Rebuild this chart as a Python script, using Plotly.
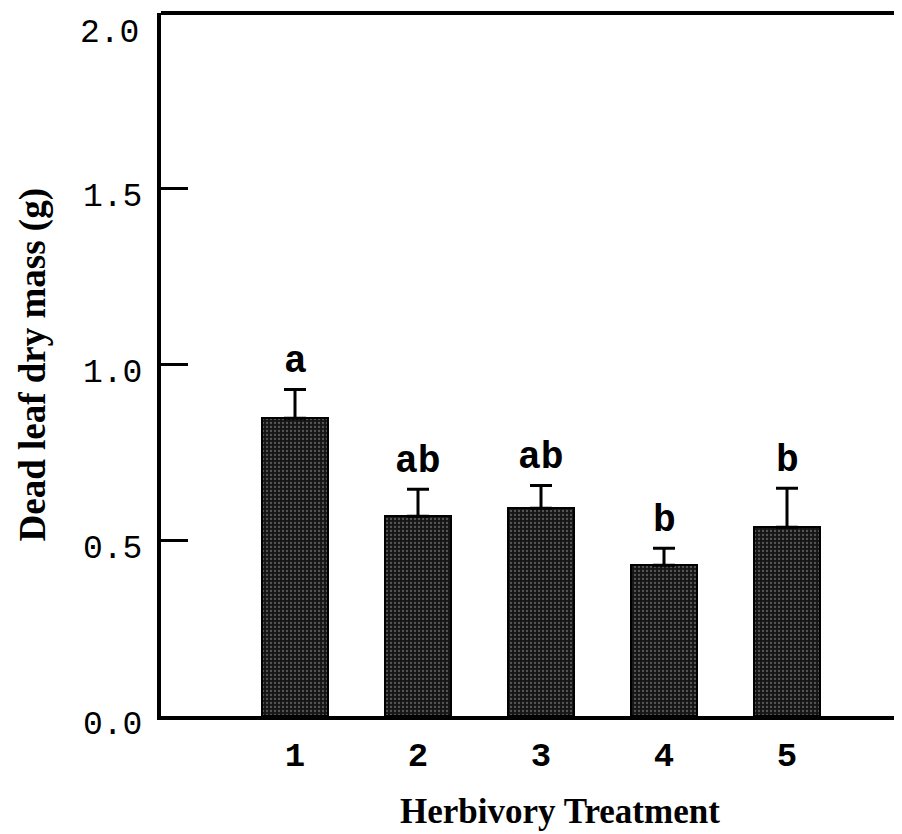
import plotly.graph_objects as go

treatments = [1, 2, 3, 4, 5]
tick_labels = ["1", "2", "3", "4", "5"]
means = [0.847, 0.568, 0.591, 0.429, 0.537]
se_upper = [0.082, 0.077, 0.065, 0.048, 0.111]
letters = ["a", "ab", "ab", "b", "b"]
y_ticks = [0.0, 0.5, 1.0, 1.5, 2.0]
y_tick_text = ["0.0", "0.5", "1.0", "1.5", ""]

# page has an 8px body margin; figure is sized so it fills the 902x834 window
OFF = 8
W, H = 902 - OFF, 834 - OFF
ML, MR, MT = 161 - OFF, 0, 13 - OFF
MB = H - (716 - OFF)

mono = "Courier New, Liberation Mono, monospace"
serif = "Times New Roman, Liberation Serif, serif"

fig = go.Figure()
fig.add_trace(go.Bar(
    x=treatments, y=means, width=0.535,
    marker=dict(
        color="#151515",
        line=dict(color="black", width=2),
        pattern=dict(shape=".", fgcolor="#9a9a9a", bgcolor="#151515", size=4, solidity=0.25),
    ),
    error_y=dict(type="data", symmetric=False, array=se_upper,
                 arrayminus=[0] * len(se_upper), color="black", thickness=3, width=11),
    showlegend=False,
))

for xv, m, e, lab in zip(treatments, means, se_upper, letters):
    fig.add_annotation(x=xv, y=m + e, text=f"<b>{lab}</b>", showarrow=False,
                       yanchor="bottom", yshift=4,
                       font=dict(family=mono, size=38, color="black"))

# top border line
fig.add_shape(type="line", xref="paper", yref="paper", x0=0, x1=1, y0=1, y1=1,
              line=dict(color="black", width=4))

# 2.0 label (drawn slightly below the top tick, as in the original)
fig.add_annotation(xref="paper", yref="y", x=0, y=2.0, text="2.0", showarrow=False,
                   xanchor="right", xshift=-20, yshift=-20,
                   font=dict(family=mono, size=33, color="black"))

plot_w = W - ML - MR
plot_bottom = H - MB
fig.add_annotation(xref="paper", yref="paper", x=(560 - OFF - ML) / plot_w, y=0,
                   yanchor="middle", yshift=-((811 - OFF) - plot_bottom),
                   text="<b>Herbivory Treatment</b>", showarrow=False,
                   font=dict(family=serif, size=35, color="black"))
fig.add_annotation(xref="paper", yref="paper", x=(32 - OFF - ML) / plot_w, y=0.5,
                   xanchor="center", yanchor="middle", textangle=-90,
                   text="<b>Dead leaf dry mass (g)</b>", showarrow=False,
                   font=dict(family=serif, size=37, color="black"))

fig.update_layout(
    width=W, height=H,
    margin=dict(l=ML, r=MR, t=MT, b=MB),
    paper_bgcolor="white", plot_bgcolor="white",
    bargap=0,
    xaxis=dict(range=[1 - 134 / 123, 5 + (902 - 787) / 123], tickvals=treatments,
               ticktext=[f"<b>{t}</b>" for t in tick_labels],
               showgrid=False, zeroline=False, showline=True, linecolor="black",
               linewidth=4, ticks="", ticklabelstandoff=5,
               tickfont=dict(family=mono, size=34, color="black")),
    yaxis=dict(range=[0, 2.0], tickvals=y_ticks, ticktext=y_tick_text,
               showgrid=False, zeroline=False, showline=True, linecolor="black",
               linewidth=4, ticks="inside", ticklen=27, tickwidth=3, tickcolor="black",
               ticklabelstandoff=8, ticklabelshift=6,
               tickfont=dict(family=mono, size=33, color="black")),
)

fig.write_html("out.html")
